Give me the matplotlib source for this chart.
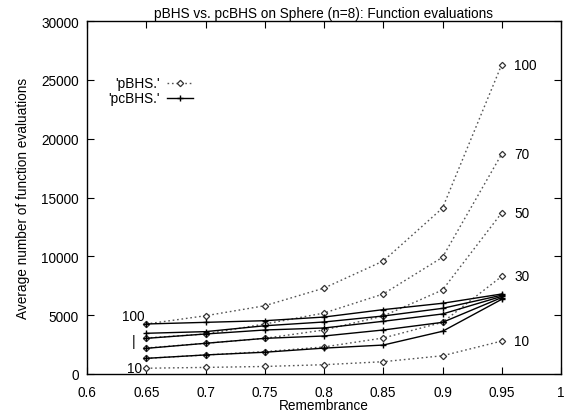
import matplotlib
matplotlib.use("Agg")
import matplotlib.pyplot as plt
from matplotlib.lines import Line2D

plt.rcParams['font.family'] = ['Liberation Sans', 'DejaVu Sans']

remembrance = [0.65, 0.7, 0.75, 0.8, 0.85, 0.9, 0.95]
sizes = [10, 30, 50, 70, 100]

pbhs = {
    100: [4250, 4950, 5800, 7300, 9600, 14100, 26300],
    70: [3060, 3400, 4250, 5180, 6800, 9920, 18700],
    50: [2210, 2610, 3030, 3740, 4930, 7140, 13700],
    30: [1330, 1615, 1900, 2300, 3060, 4390, 8300],
    10: [490, 560, 640, 790, 1045, 1550, 2800],
}
pcbhs = {
    100: [4250, 4390, 4530, 4840, 5470, 6010, 6800],
    70: [3460, 3600, 4100, 4420, 4930, 5580, 6700],
    50: [3030, 3400, 3740, 3910, 4480, 5100, 6600],
    30: [2180, 2610, 3030, 3230, 3740, 4390, 6500],
    10: [1330, 1620, 1850, 2200, 2460, 3630, 6350],
}

fig = plt.figure(figsize=(5.69, 4.14), dpi=100)
ax = fig.add_axes([87/569, 39/414, (561-87)/569, (375-22)/414])

fs = 9.8
for n in sizes:
    ax.plot(remembrance, pbhs[n], color='#555555', linestyle=(0, (1.2, 2.0)), lw=1.0,
            marker='D', markersize=3.2, markerfacecolor='white', markeredgecolor='#333333',
            markeredgewidth=0.9)
for n in sizes:
    ax.plot(remembrance, pcbhs[n], color='black', linestyle='-', lw=1.0,
            marker='+', markersize=5, markeredgewidth=1.0)

# right labels for pBHS
for n in sizes:
    ax.annotate(str(n), xy=(remembrance[-1], pbhs[n][-1]), xytext=(9, 0),
                textcoords='offset points', va='center', ha='left', fontsize=fs)
# left labels for pcBHS
ax.annotate('100', xy=(remembrance[0], pcbhs[100][0]), xytext=(-1, 1),
            textcoords='offset points', va='bottom', ha='right', fontsize=fs)
ax.annotate('|', xy=(remembrance[0], (pcbhs[70][0] + pcbhs[30][0]) / 2), xytext=(-8, 0),
            textcoords='offset points', va='center', ha='right', fontsize=fs)
ax.annotate('10', xy=(remembrance[0], pbhs[10][0]), xytext=(-3, 0),
            textcoords='offset points', va='center', ha='right', fontsize=fs)

ax.set_xlim(0.6, 1.0)
ax.set_ylim(0, 30000)
ax.set_xticks([0.6, 0.65, 0.7, 0.75, 0.8, 0.85, 0.9, 0.95, 1.0])
ax.set_xticklabels(['0.6', '0.65', '0.7', '0.75', '0.8', '0.85', '0.9', '0.95', '1'])
ax.set_yticks(range(0, 30001, 5000))
ax.tick_params(direction='in', top=True, right=True, length=5, width=0.8, labelsize=fs)
ax.tick_params(axis='x', pad=8)
ax.tick_params(axis='y', pad=6)
for s in ax.spines.values():
    s.set_linewidth(1.0)

ax.set_title('pBHS vs. pcBHS on Sphere (n=8): Function evaluations', fontsize=fs, pad=3)
ax.set_xlabel('Remembrance', fontsize=fs, labelpad=-1)
ax.set_ylabel('Average number of function evaluations', fontsize=fs, labelpad=8)

# gnuplot-style key
fig.text(160/569, 1 - 84/414, "'pBHS.'", ha='right', va='center', fontsize=fs)
fig.text(160/569, 1 - 99/414, "'pcBHS.'", ha='right', va='center', fontsize=fs)
fig.add_artist(Line2D([167/569, 193/569], [1 - 84/414, 1 - 84/414], color='#555555',
                      linestyle=(0, (1.2, 2.0)), lw=1.0))
fig.add_artist(Line2D([180/569], [1 - 84/414], marker='D', markersize=3.2,
                      markerfacecolor='white', markeredgecolor='#333333', markeredgewidth=0.9))
fig.add_artist(Line2D([167/569, 193/569], [1 - 99/414, 1 - 99/414], color='black', lw=1.0))
fig.add_artist(Line2D([180/569], [1 - 99/414], marker='+', markersize=5, color='black',
                      markeredgewidth=1.0))

fig.savefig('out.png', dpi=100)
